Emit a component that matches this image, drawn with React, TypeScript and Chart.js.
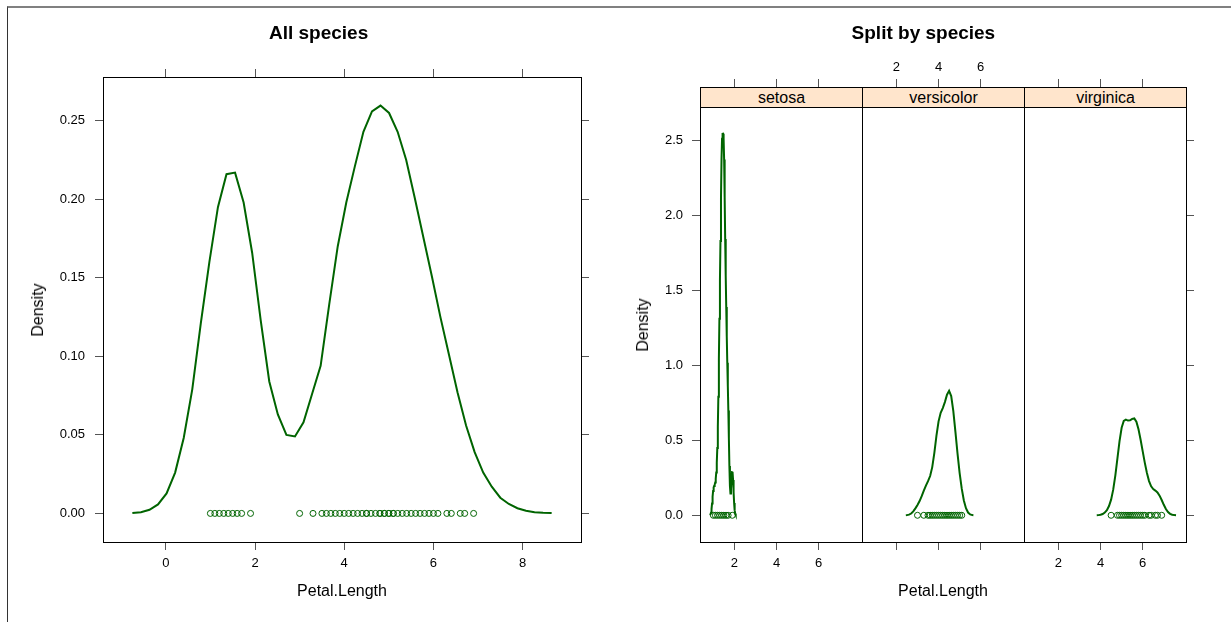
import React, { useEffect, useRef } from "react";
import { Chart, registerables } from "chart.js";

Chart.register(...registerables);

const FONT = '"Liberation Sans", Arial, Helvetica, sans-serif';
const GREEN = "#006400";
const STRIP_BG = "#FFE5CC";

// ---------------- data ----------------
const SPECIES = ["setosa", "versicolor", "virginica"];

const SETOSA_PETAL = [1.0, 1.1, 1.2, 1.3, 1.4, 1.5, 1.6, 1.7, 1.9];
const VERSICOLOR_PETAL = [3.0, 3.3, 3.5, 3.6, 3.7, 3.8, 3.9, 4.0, 4.1, 4.2, 4.3, 4.4, 4.5, 4.6, 4.7, 4.8, 4.9, 5.0, 5.1];
const VIRGINICA_PETAL = [4.5, 4.8, 4.9, 5.0, 5.1, 5.2, 5.3, 5.4, 5.5, 5.6, 5.7, 5.8, 5.9, 6.0, 6.1, 6.3, 6.4, 6.6, 6.7, 6.9];

const ALL_DENS_X = [-0.749, -0.557, -0.365, -0.174, 0.018, 0.21, 0.402, 0.594, 0.785, 0.977, 1.169, 1.361, 1.553, 1.745, 1.936, 2.128, 2.32, 2.512, 2.704, 2.896, 3.087, 3.279, 3.471, 3.663, 3.854, 4.046, 4.238, 4.43, 4.622, 4.813, 5.005, 5.197, 5.389, 5.58, 5.772, 5.964, 6.156, 6.348, 6.54, 6.731, 6.923, 7.115, 7.307, 7.498, 7.69, 7.882, 8.074, 8.266, 8.457, 8.649];
const ALL_DENS_Y = [0.0002, 0.0008, 0.0023, 0.0057, 0.0127, 0.026, 0.048, 0.079, 0.121, 0.16, 0.195, 0.216, 0.217, 0.198, 0.166, 0.123, 0.084, 0.063, 0.05, 0.049, 0.058, 0.076, 0.094, 0.133, 0.17, 0.198, 0.221, 0.243, 0.256, 0.2597, 0.255, 0.243, 0.225, 0.201, 0.176, 0.151, 0.125, 0.101, 0.077, 0.056, 0.039, 0.026, 0.017, 0.01, 0.006, 0.0033, 0.0017, 0.0008, 0.0004, 0.0002];

const SETOSA_DENS_X = [0.839, 0.864, 0.889, 0.914, 0.939, 0.964, 0.989, 1.014, 1.038, 1.063, 1.088, 1.113, 1.138, 1.163, 1.188, 1.213, 1.238, 1.263, 1.288, 1.313, 1.338, 1.363, 1.388, 1.413, 1.438, 1.463, 1.487, 1.512, 1.537, 1.562, 1.587, 1.612, 1.637, 1.662, 1.687, 1.712, 1.737, 1.762, 1.787, 1.812, 1.837, 1.862, 1.887, 1.911, 1.936, 1.961, 1.986, 2.011, 2.036, 2.061];
const SETOSA_DENS_Y = [0.0016, 0.006, 0.0174, 0.0412, 0.0788, 0.1238, 0.1624, 0.1851, 0.1952, 0.2035, 0.218, 0.2433, 0.2852, 0.3512, 0.448, 0.5896, 0.791, 1.0444, 1.3107, 1.564, 1.8298, 2.12, 2.3727, 2.5104, 2.5441, 2.5445, 2.51, 2.3728, 2.1227, 1.8416, 1.5976, 1.3887, 1.1929, 1.0168, 0.8617, 0.6993, 0.5126, 0.3284, 0.1961, 0.1459, 0.1718, 0.2366, 0.2891, 0.2904, 0.2358, 0.1546, 0.0817, 0.0347, 0.0119, 0.0033];

const VERSICOLOR_DENS_X = [2.447, 2.5, 2.6, 2.7, 2.8, 2.9, 3.0, 3.1, 3.2, 3.3, 3.4, 3.5, 3.6, 3.7, 3.8, 3.9, 4.0, 4.1, 4.2, 4.3, 4.4, 4.5, 4.6, 4.7, 4.8, 4.9, 5.0, 5.1, 5.2, 5.3, 5.4, 5.5, 5.6, 5.653];
const VERSICOLOR_DENS_Y = [0.0005, 0.0011, 0.0042, 0.0119, 0.0263, 0.0461, 0.0687, 0.095, 0.1273, 0.1637, 0.1977, 0.2272, 0.262, 0.3212, 0.4164, 0.5306, 0.6266, 0.6829, 0.7151, 0.7547, 0.8045, 0.8299, 0.7946, 0.6946, 0.5559, 0.4111, 0.2819, 0.1772, 0.099, 0.0471, 0.0184, 0.0057, 0.0014, 0.0006];

const VIRGINICA_DENS_X = [3.819, 3.9, 4.0, 4.1, 4.2, 4.3, 4.4, 4.5, 4.6, 4.7, 4.8, 4.9, 5.0, 5.1, 5.2, 5.3, 5.4, 5.5, 5.6, 5.7, 5.8, 5.9, 6.0, 6.1, 6.2, 6.3, 6.4, 6.5, 6.6, 6.7, 6.8, 6.9, 7.0, 7.1, 7.2, 7.3, 7.4, 7.5, 7.581];
const VIRGINICA_DENS_Y = [0.0004, 0.0011, 0.0033, 0.0083, 0.0181, 0.0347, 0.0617, 0.1045, 0.1708, 0.2647, 0.3796, 0.4949, 0.5839, 0.6297, 0.6378, 0.6317, 0.6328, 0.6429, 0.6456, 0.6238, 0.5736, 0.5037, 0.4262, 0.3498, 0.2817, 0.2281, 0.1932, 0.1747, 0.1645, 0.1521, 0.1311, 0.1019, 0.0701, 0.0423, 0.0221, 0.0099, 0.0038, 0.0012, 0.0004];

const ALL_X_TICKS = [0, 2, 4, 6, 8];
const ALL_Y_TICKS = [0, 0.05, 0.1, 0.15, 0.2, 0.25];
const SPLIT_X_TICKS = [2, 4, 6];
const SPLIT_Y_TICKS = [0, 0.5, 1.0, 1.5, 2.0, 2.5];

const ALL_X_RANGE = [-1.407, 9.307];
const ALL_Y_RANGE = [-0.0182, 0.2779];
const SPLIT_X_RANGE = [0.367, 8.054];
const SPLIT_Y_RANGE = [-0.1781, 2.856]; // top includes the strip band

// ---------------- helpers ----------------
type Pos = "left" | "right" | "top" | "bottom";
type AxisOpt = {
  pos: Pos;
  size: number;
  range: number[];
  ticks: number[];
  marks: boolean;
  labels: boolean;
  digits: number;
  pad: number;
};

function axis(o: AxisOpt) {
  const vertical = o.pos === "left" || o.pos === "right";
  return {
    type: "linear",
    position: o.pos,
    min: o.range[0],
    max: o.range[1],
    afterBuildTicks: (s: any) => {
      s.ticks = o.ticks.map((v) => ({ value: v }));
    },
    afterFit: (s: any) => {
      if (vertical) s.width = o.size;
      else s.height = o.size;
    },
    grid: {
      display: o.marks,
      drawOnChartArea: false,
      drawTicks: true,
      tickLength: 8,
      tickColor: "#555",
      tickWidth: 1,
    },
    border: { display: true, color: "#000", width: 1 },
    ticks: {
      display: o.labels,
      color: "#000",
      padding: o.pad,
      font: { family: FONT, size: 13 },
      maxRotation: 0,
      minRotation: 0,
      autoSkip: false,
      callback: (v: any) => Number(v).toFixed(o.digits),
    },
  };
}

type Box = { l: number; t: number; w: number; h: number };

function Panel(props: { box: Box; scales: any; curveX: number[]; curveY: number[]; pts: number[] }) {
  const ref = useRef<HTMLCanvasElement>(null);
  useEffect(() => {
    const curve = props.curveX.map((x, i) => ({ x, y: props.curveY[i] }));
    const points = props.pts.map((x) => ({ x, y: 0 }));
    const chart = new Chart(ref.current as HTMLCanvasElement, {
      type: "scatter",
      data: {
        datasets: [
          {
            type: "line",
            data: curve,
            borderColor: GREEN,
            borderWidth: 2,
            pointRadius: 0,
            fill: false,
            tension: 0,
          } as any,
          {
            type: "scatter",
            data: points,
            borderColor: GREEN,
            backgroundColor: "rgba(0,0,0,0)",
            borderWidth: 1,
            pointRadius: 3,
            pointStyle: "circle",
          } as any,
        ],
      },
      options: {
        responsive: false,
        maintainAspectRatio: false,
        animation: false,
        devicePixelRatio: 1,
        events: [],
        layout: { padding: 0, autoPadding: false },
        plugins: {
          legend: { display: false },
          tooltip: { enabled: false },
          title: { display: false },
        },
        scales: props.scales,
      } as any,
    });
    return () => chart.destroy();
  }, []);
  const b = props.box;
  return (
    <canvas
      ref={ref}
      width={b.w}
      height={b.h}
      style={{ position: "absolute", left: b.l, top: b.t, width: b.w, height: b.h }}
    />
  );
}

function Label(props: { x: number; y: number; size: number; bold?: boolean; rotate?: boolean; children: any }) {
  return (
    <div
      style={{
        position: "absolute",
        left: props.x,
        top: props.y,
        transform: "translate(-50%,-50%)" + (props.rotate ? " rotate(-90deg)" : ""),
        fontFamily: FONT,
        fontSize: props.size,
        fontWeight: props.bold ? "bold" : "normal",
        lineHeight: 1,
        whiteSpace: "nowrap",
        color: "#000",
      }}
    >
      {props.children}
    </div>
  );
}

// ---------------- app ----------------
export default function App() {
  const allPts = [...SETOSA_PETAL, ...VERSICOLOR_PETAL, ...VIRGINICA_PETAL];

  const leftScales = {
    x: axis({ pos: "bottom", size: 80, range: ALL_X_RANGE, ticks: ALL_X_TICKS, marks: true, labels: true, digits: 0, pad: 6 }),
    x2: axis({ pos: "top", size: 77, range: ALL_X_RANGE, ticks: ALL_X_TICKS, marks: true, labels: false, digits: 0, pad: 4 }),
    y: axis({ pos: "left", size: 103, range: ALL_Y_RANGE, ticks: ALL_Y_TICKS, marks: true, labels: true, digits: 2, pad: 10 }),
    y2: axis({ pos: "right", size: 34, range: ALL_Y_RANGE, ticks: ALL_Y_TICKS, marks: true, labels: false, digits: 2, pad: 4 }),
  };

  const splitScales = (i: number, rightSize: number) => ({
    x: axis({ pos: "bottom", size: 80, range: SPLIT_X_RANGE, ticks: SPLIT_X_TICKS, marks: true, labels: i !== 1, digits: 0, pad: 6 }),
    x2: axis({ pos: "top", size: 87, range: SPLIT_X_RANGE, ticks: SPLIT_X_TICKS, marks: true, labels: i === 1, digits: 0, pad: 4 }),
    y: axis({ pos: "left", size: 85, range: SPLIT_Y_RANGE, ticks: SPLIT_Y_TICKS, marks: i === 0, labels: i === 0, digits: 1, pad: 9 }),
    y2: axis({ pos: "right", size: rightSize, range: SPLIT_Y_RANGE, ticks: SPLIT_Y_TICKS, marks: i === 2, labels: false, digits: 1, pad: 4 }),
  });

  const splitCurvesX = [SETOSA_DENS_X, VERSICOLOR_DENS_X, VIRGINICA_DENS_X];
  const splitCurvesY = [SETOSA_DENS_Y, VERSICOLOR_DENS_Y, VIRGINICA_DENS_Y];
  const splitPts = [SETOSA_PETAL, VERSICOLOR_PETAL, VIRGINICA_PETAL];
  const splitBoxes: Box[] = [
    { l: 615, t: 0, w: 300, h: 622 },
    { l: 777, t: 0, w: 300, h: 622 },
    { l: 939, t: 0, w: 292, h: 622 },
  ];
  const rightSizes = [53, 53, 45];
  const stripLefts = [700, 862, 1024];

  return (
    <div style={{ position: "absolute", left: 0, top: 0, width: 1231, height: 622, overflow: "hidden", background: "#fff" }}>
      <div
        style={{
          position: "absolute",
          left: 7,
          top: 6,
          width: 1224,
          height: 616,
          boxSizing: "border-box",
          borderTop: "2px solid #808080",
          borderLeft: "1px solid #333",
        }}
      />
      <Panel box={{ l: 0, t: 0, w: 615, h: 622 }} scales={leftScales} curveX={ALL_DENS_X} curveY={ALL_DENS_Y} pts={allPts} />
      {SPECIES.map((sp, i) => (
        <Panel
          key={sp}
          box={splitBoxes[i]}
          scales={splitScales(i, rightSizes[i])}
          curveX={splitCurvesX[i]}
          curveY={splitCurvesY[i]}
          pts={splitPts[i]}
        />
      ))}
      {SPECIES.map((sp, i) => (
        <div
          key={"strip-" + sp}
          style={{
            position: "absolute",
            left: stripLefts[i],
            top: 87,
            width: 163,
            height: 21,
            boxSizing: "border-box",
            border: "1px solid #000",
            background: STRIP_BG,
          }}
        />
      ))}
      {SPECIES.map((sp, i) => (
        <Label key={"lab-" + sp} x={stripLefts[i] + 81.5} y={97.5} size={16}>
          {sp}
        </Label>
      ))}

      <Label x={318.6} y={32} size={19} bold>
        All species
      </Label>
      <Label x={923.4} y={32} size={19} bold>
        Split by species
      </Label>
      <Label x={342} y={591} size={16}>
        Petal.Length
      </Label>
      <Label x={943} y={591} size={16}>
        Petal.Length
      </Label>
      <Label x={37.5} y={309.5} size={16} rotate>
        Density
      </Label>
      <Label x={642.7} y={324.5} size={16} rotate>
        Density
      </Label>
    </div>
  );
}
